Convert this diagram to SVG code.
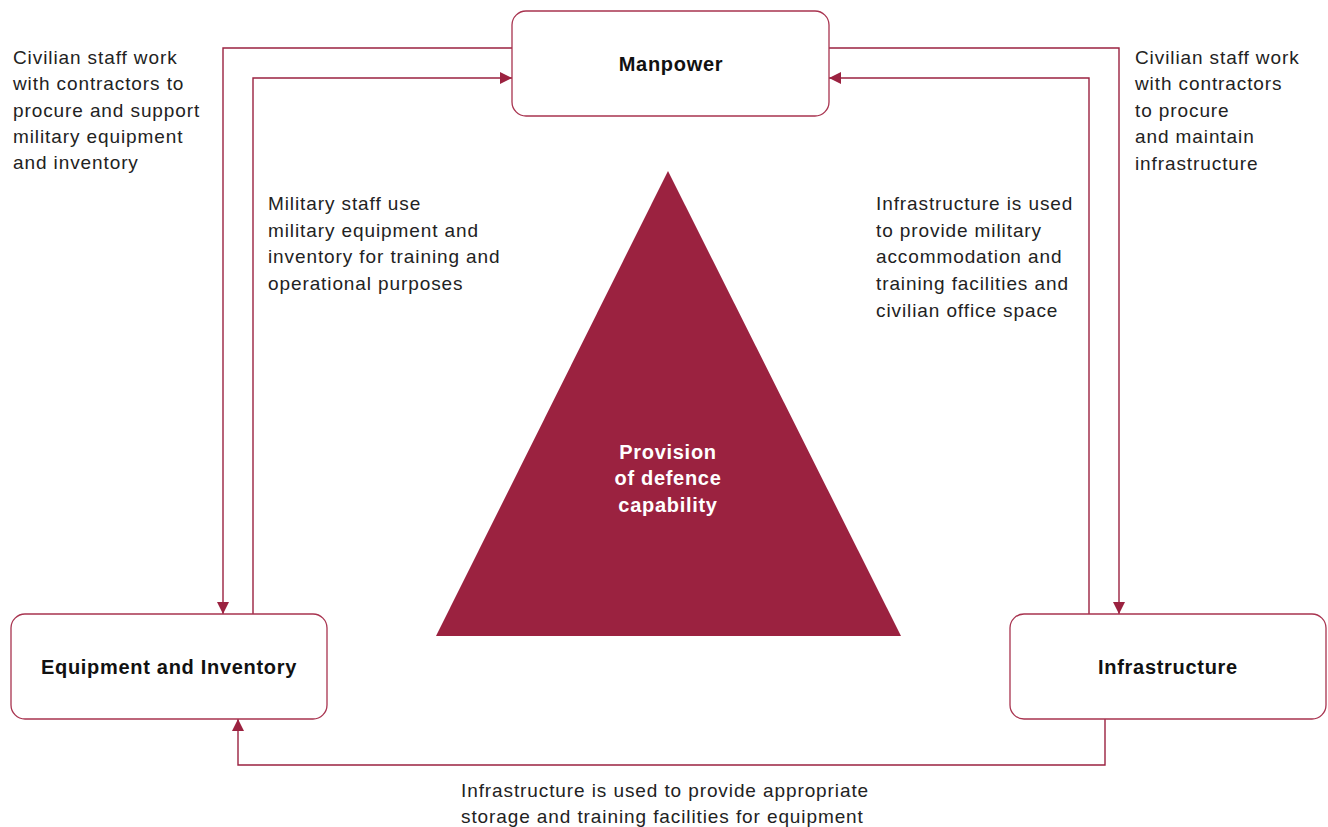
<svg xmlns="http://www.w3.org/2000/svg" width="1328" height="827" viewBox="0 0 1328 827">
  <defs>
    <style>
      .box { fill: #ffffff; stroke: #a8334f; stroke-width: 1.3; }
      .label { font-family: "Liberation Sans", Arial, sans-serif; font-size: 20px; font-weight: bold; letter-spacing: 0.7px; fill: #111111; text-anchor: middle; }
      .note { font-family: "Liberation Sans", Arial, sans-serif; font-size: 19px; letter-spacing: 0.9px; fill: #222222; }
      .core { font-family: "Liberation Sans", Arial, sans-serif; font-size: 20px; font-weight: bold; letter-spacing: 0.7px; fill: #ffffff; text-anchor: middle; }
      .flow { fill: none; stroke: #9b2240; stroke-width: 1.4; }
    </style>
    <marker id="arrow" viewBox="0 0 12 12" refX="12" refY="6" markerWidth="12" markerHeight="12" markerUnits="userSpaceOnUse" orient="auto">
      <path d="M0,0 L12,6 L0,12 Z" fill="#9b2240"/>
    </marker>
  </defs>

  <rect width="1328" height="827" fill="#ffffff"/>

  <!-- central triangle -->
  <g id="capability">
    <polygon points="668,171 901,636 436,636" fill="#9b2240"/>
    <text class="core" x="668" y="459">Provision</text>
    <text class="core" x="668" y="485">of defence</text>
    <text class="core" x="668" y="512">capability</text>
  </g>

  <!-- connectors -->
  <g id="connectors">
    <polyline class="flow" points="512,48 223,48 223,614" marker-end="url(#arrow)"/>
    <polyline class="flow" points="253,614 253,78 512,78" marker-end="url(#arrow)"/>
    <polyline class="flow" points="829,48 1119,48 1119,614" marker-end="url(#arrow)"/>
    <polyline class="flow" points="1089,614 1089,78 829,78" marker-end="url(#arrow)"/>
    <polyline class="flow" points="1105,719 1105,765 238,765 238,719" marker-end="url(#arrow)"/>
  </g>

  <!-- nodes -->
  <g id="manpower">
    <rect class="box" x="512" y="11" width="317" height="105" rx="14"/>
    <text class="label" x="671" y="71">Manpower</text>
  </g>
  <g id="equipment">
    <rect class="box" x="11" y="614" width="316" height="105" rx="14"/>
    <text class="label" x="169" y="674">Equipment and Inventory</text>
  </g>
  <g id="infrastructure">
    <rect class="box" x="1010" y="614" width="316" height="105" rx="14"/>
    <text class="label" x="1168" y="674">Infrastructure</text>
  </g>

  <!-- connector notes -->
  <g id="note-civ-equipment">
    <text class="note" x="13" y="64">Civilian staff work</text>
    <text class="note" x="13" y="90">with contractors to</text>
    <text class="note" x="13" y="117">procure and support</text>
    <text class="note" x="13" y="143">military equipment</text>
    <text class="note" x="13" y="169">and inventory</text>
  </g>
  <g id="note-mil-equipment">
    <text class="note" x="268" y="210">Military staff use</text>
    <text class="note" x="268" y="237">military equipment and</text>
    <text class="note" x="268" y="263">inventory for training and</text>
    <text class="note" x="268" y="290">operational purposes</text>
  </g>
  <g id="note-infra-accommodation">
    <text class="note" x="876" y="210">Infrastructure is used</text>
    <text class="note" x="876" y="237">to provide military</text>
    <text class="note" x="876" y="263">accommodation and</text>
    <text class="note" x="876" y="290">training facilities and</text>
    <text class="note" x="876" y="317">civilian office space</text>
  </g>
  <g id="note-civ-infra">
    <text class="note" x="1135" y="64">Civilian staff work</text>
    <text class="note" x="1135" y="90">with contractors</text>
    <text class="note" x="1135" y="117">to procure</text>
    <text class="note" x="1135" y="143">and maintain</text>
    <text class="note" x="1135" y="170">infrastructure</text>
  </g>
  <g id="note-storage">
    <text class="note" x="461" y="797">Infrastructure is used to provide appropriate</text>
    <text class="note" x="461" y="823">storage and training facilities for equipment</text>
  </g>
</svg>
